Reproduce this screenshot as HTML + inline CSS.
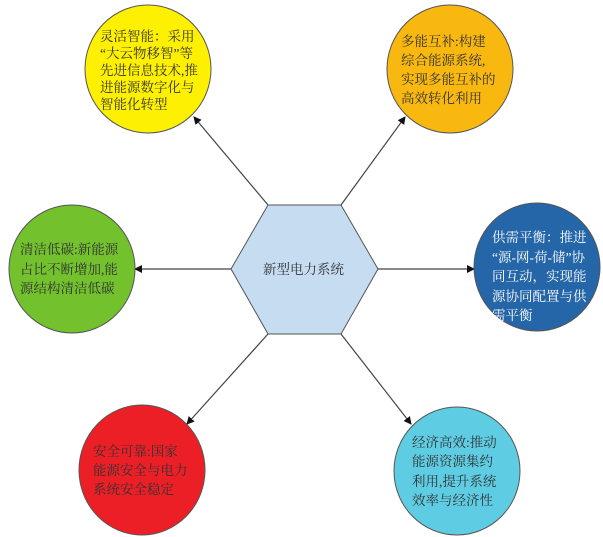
<!DOCTYPE html>
<html><head><meta charset="utf-8"><style>
body{margin:0;width:603px;height:537px;background:#fff;position:relative;overflow:hidden;font-family:"Liberation Serif","Noto Serif CJK SC",serif;}
.t{position:absolute;font-size:13.5px;color:#333;white-space:nowrap;}
svg{position:absolute;left:0;top:0}
</style></head><body>
<svg width="603" height="537">
<defs><marker id="a" markerWidth="8" markerHeight="8" refX="7" refY="4" orient="auto" markerUnits="userSpaceOnUse"><path d="M0,0 L8,4 L0,8z" fill="#111"/></marker></defs>
<g stroke="#444" stroke-width="1.2" fill="none">
<line x1="268" y1="205" x2="194" y2="117" marker-end="url(#a)"/>
<line x1="341" y1="205" x2="405" y2="117" marker-end="url(#a)"/>
<line x1="231" y1="269" x2="135" y2="269" marker-end="url(#a)"/>
<line x1="378" y1="269" x2="474" y2="269" marker-end="url(#a)"/>
<line x1="268" y1="334" x2="187" y2="424" marker-end="url(#a)"/>
<line x1="341" y1="334" x2="411" y2="424" marker-end="url(#a)"/>
</g>
<g stroke="#555" stroke-width="1">
<ellipse cx="148" cy="69" rx="63" ry="64" fill="#fdf000"/>
<ellipse cx="450" cy="69" rx="63" ry="64" fill="#f9b80f"/>
<ellipse cx="72" cy="269" rx="63" ry="64" fill="#72c12d"/>
<ellipse cx="537" cy="267" rx="63" ry="64" fill="#2466a8"/>
<ellipse cx="142" cy="470" rx="63" ry="65" fill="#ec1f27"/>
<ellipse cx="457" cy="471" rx="63" ry="64" fill="#5ecde4"/>
<polygon points="268,205 341,205 378,269 341,334 268,334 231,269" fill="#c6dcf1"/>
</g>
</svg>
<div class="t" style="left:100px;top:28px;line-height:17px">灵活智能：采用<br>“大云物移智”等<br>先进信息技术,推<br>进能源数字化与<br>智能化转型</div>
<div class="t" style="left:401px;top:32px;line-height:19px">多能互补:构建<br>综合能源系统,<br>实现多能互补的<br>高效转化利用</div>
<div class="t" style="left:20px;top:240px;line-height:19.5px">清洁低碳:新能源<br>占比不断增加,能<br>源结构清洁低碳</div>
<div class="t" style="left:492px;top:228px;line-height:19.5px;color:#fff">供需平衡：推进<br>“源-网-荷-储”协<br>同互动，实现能<br>源协同配置与供<br>需平衡</div>
<div class="t" style="left:93px;top:442px;line-height:19px">安全可靠:国家<br>能源安全与电力<br>系统安全稳定</div>
<div class="t" style="left:412px;top:433px;line-height:19.3px">经济高效:推动<br>能源资源集约<br>利用,提升系统<br>效率与经济性</div>
<div class="t" style="left:263px;top:261px;line-height:18px">新型电力系统</div>
</body></html>
